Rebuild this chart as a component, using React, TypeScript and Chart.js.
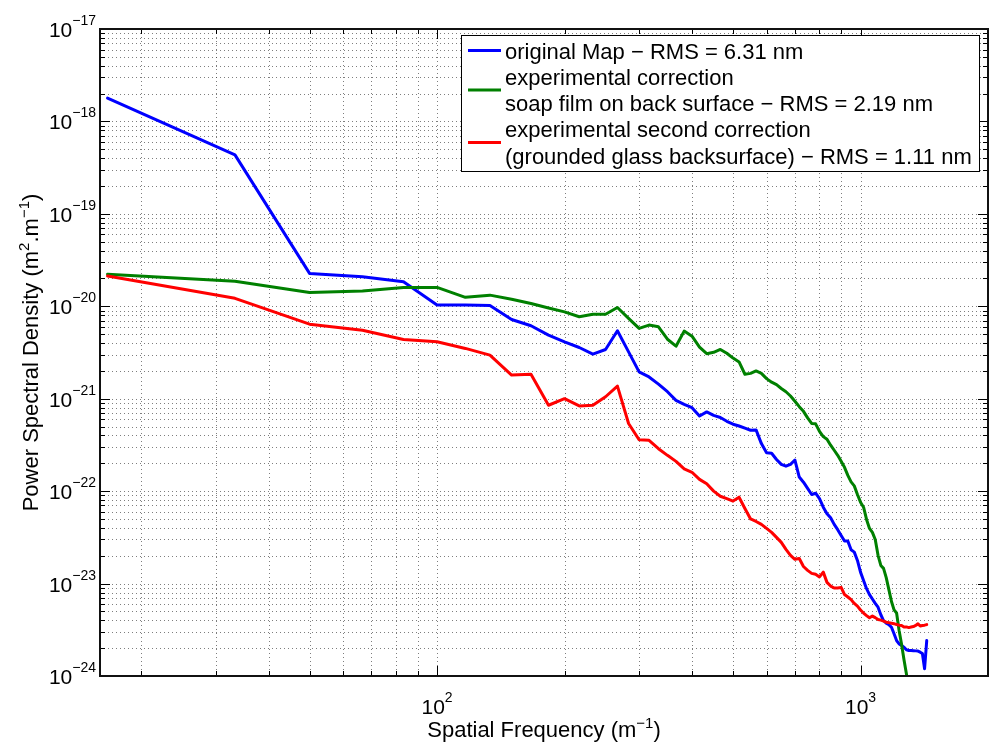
import { useEffect, useRef } from 'react';
import { Chart, registerables } from 'chart.js';

Chart.register(...registerables);

// Spatial frequency (m^-1)
const FREQ = [
  16.67, 33.33, 50.0, 66.67, 83.33, 100.0, 116.67, 133.33, 150.0, 166.67,
  183.33, 200.0, 216.67, 233.33, 250.0, 266.67, 283.33, 300.0, 316.67, 333.33,
  350.0, 366.67, 383.33, 400.0, 416.67, 433.33, 450.0, 466.67, 483.33, 500.0,
  516.67, 533.33, 550.0, 566.67, 583.33, 600.0, 616.67, 633.33, 650.0, 666.67,
  683.33, 700.0, 716.67, 733.33, 750.0, 766.67, 783.33, 800.0, 816.67, 833.33,
  850.0, 866.67, 883.33, 900.0, 916.67, 933.33, 950.0, 966.67, 983.33, 1000.0,
  1016.67, 1033.33, 1050.0, 1066.67, 1083.33, 1100.0, 1116.67, 1133.33, 1150.0, 1166.67,
  1183.33, 1200.0, 1216.67, 1233.33, 1250.0, 1266.67, 1283.33, 1300.0, 1316.67, 1333.33,
  1350.0, 1366.67, 1383.33, 1400.0, 1416.67, 1433.33,
];

// Power spectral density (m^2.m^-1)
const ORIGINAL_MAP = [
  1.79e-18, 4.35e-19, 2.27e-20, 2.09e-20, 1.84e-20, 1.03e-20, 1.03e-20, 1.02e-20, 7.2e-21, 6.15e-21,
  4.87e-21, 4.12e-21, 3.58e-21, 3.03e-21, 3.41e-21, 5.43e-21, 3.21e-21, 1.95e-21, 1.72e-21, 1.44e-21,
  1.19e-21, 9.6e-22, 8.7e-22, 8.0e-22, 6.5e-22, 7.2e-22, 6.6e-22, 6.26e-22, 5.7e-22, 5.3e-22,
  5.07e-22, 4.8e-22, 4.56e-22, 4.6e-22, 3.27e-22, 2.6e-22, 2.57e-22, 2.2e-22, 1.95e-22, 1.86e-22,
  1.95e-22, 2.17e-22, 1.42e-22, 1.25e-22, 1.07e-22, 9.2e-23, 9.5e-23, 8.3e-23, 6.7e-23, 5.7e-23,
  5.15e-23, 4.37e-23, 3.83e-23, 3.32e-23, 2.88e-23, 2.88e-23, 2.32e-23, 2.19e-23, 1.78e-23, 1.33e-23,
  1.08e-23, 8.8e-24, 7.6e-24, 6.8e-24, 6.1e-24, 5.55e-24, 4.6e-24, 3.98e-24, 3.72e-24, 3.6e-24,
  3.37e-24, 2.86e-24, 2.42e-24, 2.22e-24, 2.14e-24, 2.05e-24, 1.92e-24, 1.89e-24, 1.89e-24, 1.88e-24,
  1.87e-24, 1.86e-24, 1.81e-24, 1.75e-24, 1.2e-24, 2.42e-24,
];

const SOAP_FILM = [
  2.22e-20, 1.87e-20, 1.41e-20, 1.46e-20, 1.6e-20, 1.6e-20, 1.25e-20, 1.32e-20, 1.19e-20, 1.07e-20,
  9.6e-21, 8.7e-21, 7.7e-21, 8.2e-21, 8.2e-21, 9.7e-21, 7.4e-21, 5.76e-21, 6.26e-21, 6.0e-21,
  4.4e-21, 3.7e-21, 5.39e-21, 4.75e-21, 3.62e-21, 3.07e-21, 3.18e-21, 3.41e-21, 3.1e-21, 2.75e-21,
  2.5e-21, 1.84e-21, 1.88e-21, 2.0e-21, 1.88e-21, 1.65e-21, 1.51e-21, 1.42e-21, 1.29e-21, 1.19e-21,
  1.07e-21, 9.4e-22, 8.2e-22, 7.3e-22, 6.2e-22, 5.4e-22, 5.35e-22, 4.44e-22, 3.89e-22, 3.64e-22,
  3.14e-22, 2.77e-22, 2.44e-22, 2.1e-22, 1.81e-22, 1.48e-22, 1.26e-22, 1.14e-22, 9.2e-23, 7.6e-23,
  6.7e-23, 4.94e-23, 3.95e-23, 3.58e-23, 3.0e-23, 2.02e-23, 1.57e-23, 1.46e-23, 1.16e-23, 8.6e-24,
  6.4e-24, 5.2e-24, 4.8e-24, 3.1e-24, 2.2e-24, 1.5e-24, 1.06e-24, 7.2e-25, 4.9e-25,
];

const GROUNDED_GLASS = [
  2.13e-20, 1.22e-20, 6.4e-21, 5.5e-21, 4.38e-21, 4.13e-21, 3.5e-21, 2.96e-21, 1.8e-21, 1.84e-21,
  8.5e-22, 1.0e-21, 8.35e-22, 8.5e-22, 1.05e-21, 1.37e-21, 5.4e-22, 3.6e-22, 3.55e-22, 2.88e-22,
  2.44e-22, 2.1e-22, 1.74e-22, 1.6e-22, 1.34e-22, 1.2e-22, 1.0e-22, 8.8e-23, 8.3e-23, 7.8e-23,
  8.6e-23, 6.5e-23, 5.0e-23, 4.7e-23, 4.37e-23, 3.95e-23, 3.58e-23, 3.16e-23, 2.79e-23, 2.34e-23,
  2.02e-23, 1.83e-23, 1.87e-23, 1.53e-23, 1.39e-23, 1.29e-23, 1.26e-23, 1.18e-23, 1.33e-23, 1.03e-23,
  9.4e-24, 8.96e-24, 8.96e-24, 9.1e-24, 7.6e-24, 7.16e-24, 6.7e-24, 6.1e-24, 5.7e-24, 5.17e-24,
  4.8e-24, 4.5e-24, 4.26e-24, 4.45e-24, 4.28e-24, 4.08e-24, 4.02e-24, 3.93e-24, 3.82e-24, 3.78e-24,
  3.73e-24, 3.68e-24, 3.6e-24, 3.55e-24, 3.52e-24, 3.39e-24, 3.4e-24, 3.34e-24, 3.39e-24, 3.43e-24,
  3.52e-24, 3.67e-24, 3.47e-24, 3.52e-24, 3.55e-24, 3.6e-24,
];

const SERIES_LABELS = [
  ['original Map \u2212 RMS = 6.31 nm'],
  ['experimental correction', 'soap film on back surface \u2212 RMS = 2.19 nm'],
  ['experimental second correction', '(grounded glass backsurface) \u2212 RMS = 1.11 nm'],
];
const SERIES_COLORS = ['#0000ff', '#008000', '#ff0000'];

const X_MIN = 16;
const X_MAX = 2000;
const Y_MIN = 1e-24;
const Y_MAX = 1e-17;

const X_MAJOR = [100, 1000];
const X_MAJOR_EXP = ['2', '3'];
const Y_MAJOR = [1e-24, 1e-23, 1e-22, 1e-21, 1e-20, 1e-19, 1e-18, 1e-17];
const Y_MAJOR_EXP = ['\u221224', '\u221223', '\u221222', '\u221221', '\u221220', '\u221219', '\u221218', '\u221217'];
const MINOR_MULTIPLIERS = [2, 3, 4, 5, 6, 7, 8, 9];

const X_TITLE = [
  { t: 'Spatial Frequency (m' },
  { t: '\u22121', sup: true },
  { t: ')' },
];
const Y_TITLE = [
  { t: 'Power Spectral Density (m' },
  { t: '2', sup: true },
  { t: '.m' },
  { t: '\u22121', sup: true },
  { t: ')' },
];

const FONT = '"Liberation Sans", Arial, Helvetica, sans-serif';

function minorValues(majors: number[], min: number, max: number) {
  const out: number[] = [];
  const decades = [majors[0] / 10, ...majors];
  for (const d of decades) {
    for (const m of MINOR_MULTIPLIERS) {
      const v = d * m;
      if (v > min && v < max) out.push(v);
    }
  }
  return out;
}

function drawRich(ctx: CanvasRenderingContext2D, parts: { t: string; sup?: boolean }[], size: number, supSize: number, raise: number) {
  const widths = parts.map((p) => {
    ctx.font = `${p.sup ? supSize : size}px ${FONT}`;
    return ctx.measureText(p.t).width;
  });
  const total = widths.reduce((a, b) => a + b, 0);
  let x = -total / 2;
  ctx.textAlign = 'left';
  ctx.textBaseline = 'alphabetic';
  parts.forEach((p, i) => {
    ctx.font = `${p.sup ? supSize : size}px ${FONT}`;
    ctx.fillText(p.t, x, p.sup ? -raise : 0);
    x += widths[i];
  });
}

const matlabAxes = {
  id: 'matlabAxes',
  beforeDatasetsDraw(chart: any) {
    const { ctx, chartArea: a, scales } = chart;
    const xs = scales.x;
    const ys = scales.y;
    ctx.save();
    ctx.strokeStyle = 'rgba(40,40,40,0.6)';
    ctx.lineWidth = 1;
    ctx.setLineDash([1, 3]);
    const xv = [...X_MAJOR, ...minorValues(X_MAJOR, X_MIN, X_MAX)];
    for (const v of xv) {
      const px = Math.round(xs.getPixelForValue(v)) + 0.5;
      if (px <= a.left + 1 || px >= a.right - 1) continue;
      ctx.beginPath();
      ctx.moveTo(px, a.top);
      ctx.lineTo(px, a.bottom);
      ctx.stroke();
    }
    const yv = [...Y_MAJOR, ...minorValues(Y_MAJOR, Y_MIN, Y_MAX)];
    for (const v of yv) {
      const py = Math.round(ys.getPixelForValue(v)) + 0.5;
      if (py <= a.top + 1 || py >= a.bottom - 1) continue;
      ctx.beginPath();
      ctx.moveTo(a.left, py);
      ctx.lineTo(a.right, py);
      ctx.stroke();
    }
    ctx.restore();
  },
  afterDatasetsDraw(chart: any) {
    const { ctx, chartArea: a, scales } = chart;
    const xs = scales.x;
    const ys = scales.y;
    ctx.save();
    ctx.setLineDash([]);
    ctx.strokeStyle = '#000';
    ctx.lineWidth = 1;
    const MAJ = 10;
    const MIN = 5;
    const xMinor = minorValues(X_MAJOR, X_MIN, X_MAX);
    const xTicks = [...X_MAJOR.map((v) => [v, MAJ]), ...xMinor.map((v) => [v, MIN])];
    for (const [v, len] of xTicks) {
      const px = Math.round(xs.getPixelForValue(v)) + 0.5;
      ctx.beginPath();
      ctx.moveTo(px, a.bottom);
      ctx.lineTo(px, a.bottom - len);
      ctx.moveTo(px, a.top);
      ctx.lineTo(px, a.top + len);
      ctx.stroke();
    }
    const yMinor = minorValues(Y_MAJOR, Y_MIN, Y_MAX);
    const yTicks = [...Y_MAJOR.map((v) => [v, MAJ]), ...yMinor.map((v) => [v, MIN])];
    for (const [v, len] of yTicks) {
      const py = Math.round(ys.getPixelForValue(v)) + 0.5;
      ctx.beginPath();
      ctx.moveTo(a.left, py);
      ctx.lineTo(a.left + len, py);
      ctx.moveTo(a.right, py);
      ctx.lineTo(a.right - len, py);
      ctx.stroke();
    }
    ctx.lineWidth = 2;
    ctx.strokeStyle = '#111';
    ctx.strokeRect(Math.round(a.left), Math.round(a.top), Math.round(a.right - a.left), Math.round(a.bottom - a.top));

    // tick labels
    ctx.fillStyle = '#000';
    const BASE = 21;
    const EXP = 14;
    Y_MAJOR.forEach((v, i) => {
      const py = ys.getPixelForValue(v);
      ctx.textBaseline = 'alphabetic';
      ctx.textAlign = 'left';
      ctx.font = `${EXP}px ${FONT}`;
      const ew = ctx.measureText(Y_MAJOR_EXP[i]).width;
      ctx.font = `${BASE}px ${FONT}`;
      const bw = ctx.measureText('10').width;
      const right = a.left - 4;
      ctx.fillText('10', right - ew - bw, py + 8);
      ctx.font = `${EXP}px ${FONT}`;
      ctx.fillText(Y_MAJOR_EXP[i], right - ew, py - 4);
    });
    X_MAJOR.forEach((v, i) => {
      const px = xs.getPixelForValue(v);
      ctx.textBaseline = 'alphabetic';
      ctx.textAlign = 'left';
      ctx.font = `${EXP}px ${FONT}`;
      const ew = ctx.measureText(X_MAJOR_EXP[i]).width;
      ctx.font = `${BASE}px ${FONT}`;
      const bw = ctx.measureText('10').width;
      const left = px - (bw + ew) / 2;
      const base = a.bottom + 38;
      ctx.fillText('10', left, base);
      ctx.font = `${EXP}px ${FONT}`;
      ctx.fillText(X_MAJOR_EXP[i], left + bw, base - 12);
    });

    // axis titles
    ctx.save();
    ctx.translate((a.left + a.right) / 2, 737);
    drawRich(ctx, X_TITLE, 22, 15, 9);
    ctx.restore();
    ctx.save();
    ctx.translate(37.5, (a.top + a.bottom) / 2);
    ctx.rotate(-Math.PI / 2);
    drawRich(ctx, Y_TITLE, 22, 15, 9);
    ctx.restore();

    // legend
    const LF = 22;
    ctx.font = `${LF}px ${FONT}`;
    const allLines = SERIES_LABELS.flat();
    const maxW = Math.max(...allLines.map((s) => ctx.measureText(s).width));
    const boxL = 461.5;
    const textX = 505;
    const firstBase = 58.5;
    const pitch = 26.3;
    const boxT = 35.5;
    const boxR = Math.round(textX + maxW + 7) + 0.5;
    const boxB = Math.round(firstBase + pitch * (allLines.length - 1) + 7) + 0.5;
    ctx.fillStyle = '#fff';
    ctx.fillRect(boxL, boxT, boxR - boxL, boxB - boxT);
    ctx.lineWidth = 1;
    ctx.strokeStyle = '#000';
    ctx.strokeRect(boxL, boxT, boxR - boxL, boxB - boxT);
    let lineIdx = 0;
    SERIES_LABELS.forEach((lines, si) => {
      const bases = lines.map((_, k) => firstBase + pitch * (lineIdx + k));
      const cy = bases.reduce((p, q) => p + q, 0) / bases.length - 8;
      ctx.strokeStyle = SERIES_COLORS[si];
      ctx.lineWidth = 3;
      ctx.beginPath();
      ctx.moveTo(468, cy);
      ctx.lineTo(501, cy);
      ctx.stroke();
      ctx.fillStyle = '#000';
      ctx.font = `${LF}px ${FONT}`;
      ctx.textAlign = 'left';
      ctx.textBaseline = 'alphabetic';
      lines.forEach((s, k) => ctx.fillText(s, textX, bases[k]));
      lineIdx += lines.length;
    });
    ctx.restore();
  },
};

export default function App() {
  const ref = useRef<HTMLCanvasElement>(null);
  useEffect(() => {
    const series = [ORIGINAL_MAP, SOAP_FILM, GROUNDED_GLASS];
    const chart = new Chart(ref.current as HTMLCanvasElement, {
      type: 'line',
      data: {
        datasets: series.map((vals, si) => ({
          label: SERIES_LABELS[si].join(' '),
          data: vals.map((v, i) => ({ x: FREQ[i], y: v })),
          borderColor: SERIES_COLORS[si],
          backgroundColor: SERIES_COLORS[si],
          borderWidth: 3,
          pointRadius: 0,
          tension: 0,
          fill: false,
          borderJoinStyle: 'round' as const,
          borderCapStyle: 'round' as const,
          order: 3 - si,
        })),
      },
      options: {
        animation: false,
        responsive: false,
        devicePixelRatio: 1,
        layout: { padding: { left: 100, top: 29, right: 2, bottom: 66 } },
        plugins: { legend: { display: false }, tooltip: { enabled: false }, title: { display: false } },
        scales: {
          x: { type: 'logarithmic', min: X_MIN, max: X_MAX, display: false },
          y: { type: 'logarithmic', min: Y_MIN, max: Y_MAX, display: false },
        },
      },
      plugins: [matlabAxes],
    });
    return () => chart.destroy();
  }, []);
  return (
    <div style={{ position: 'fixed', left: 0, top: 0, width: 990, height: 742, background: '#fff' }}>
      <canvas ref={ref} width={990} height={742} style={{ display: 'block' }} />
    </div>
  );
}
